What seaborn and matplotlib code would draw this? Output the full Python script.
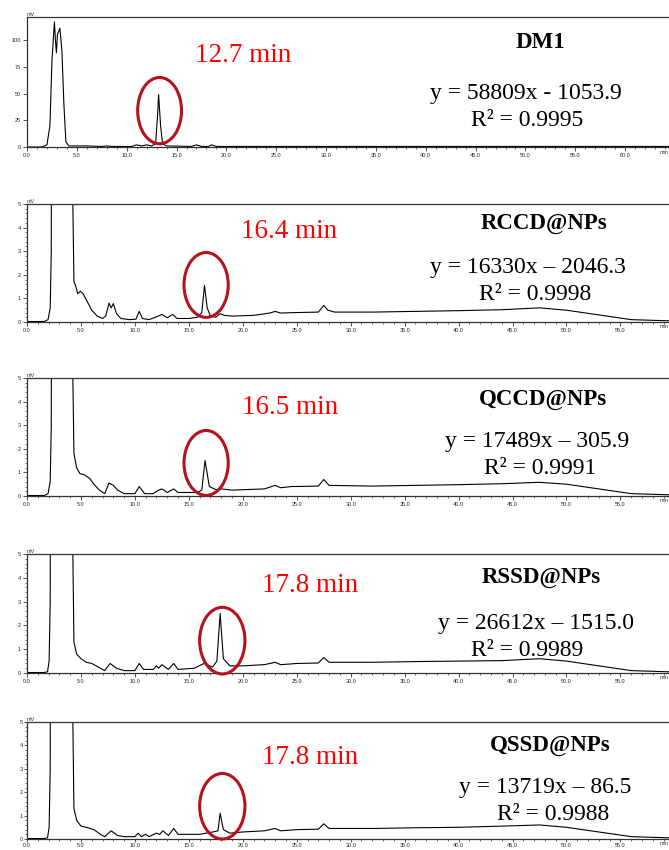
import pandas as pd
import seaborn as sns
import matplotlib.pyplot as plt
from matplotlib.patches import Ellipse
from matplotlib.ticker import MultipleLocator, FormatStrFormatter

# chromatogram traces (time in min, signal in mV)
dm1_t = [0, 1.5, 2.0, 2.3, 2.5, 2.75, 2.85, 2.95, 3.05, 3.3, 3.5, 3.7, 3.9, 4.2, 5.0, 6.0, 7.5, 8.0, 8.5,
         10.5, 11.0, 11.5, 12.0, 12.5, 12.9, 13.1, 13.2, 13.4, 13.6, 14.0, 16.5, 17.0, 17.5, 18.2,
         18.5, 19.0, 20.0, 64.4]
dm1_mv = [0, 0, 2, 20, 80, 117, 100, 88, 105, 111, 90, 40, 5, 1, 1, 1, 0.5, 1, 0.5,
          0.5, 2, 1, 2, 1, 3, 30, 49, 20, 3, 1, 0.5, 2, 0.5, 0.5,
          2, 0.5, 0.5, 0.5]

rccd_t = [0, 1.6, 1.95, 2.15, 2.25, 2.35, 4.15, 4.25, 4.35, 4.5, 4.7, 4.95, 5.2, 5.6, 6.0, 6.5, 7.0, 7.3,
          7.6, 7.8, 8.0, 8.3, 8.7, 9.5, 10.1, 10.4, 10.7, 11.3, 12.0, 12.5, 13.0, 13.5, 13.9, 15.0,
          15.8, 16.2, 16.45, 16.7, 17.0, 17.5, 17.9, 18.3, 19.0, 21.0, 22.5, 23.0, 23.5, 25.0, 27.0,
          27.5, 27.9, 28.5, 32.0, 36.0, 40.0, 44.0, 47.5, 50.0, 53.0, 56.0, 59.5]
rccd_mv = [0.02, 0.02, 0.1, 0.6, 3.0, 40, 40, 5.0, 1.7, 1.55, 1.2, 1.3, 1.2, 0.85, 0.5, 0.25, 0.15, 0.25,
           0.8, 0.6, 0.78, 0.35, 0.15, 0.1, 0.12, 0.45, 0.15, 0.1, 0.22, 0.32, 0.18, 0.32, 0.15, 0.15,
           0.2, 0.4, 1.55, 0.6, 0.25, 0.2, 0.35, 0.28, 0.25, 0.28, 0.38, 0.45, 0.38, 0.4, 0.42,
           0.7, 0.5, 0.42, 0.42, 0.45, 0.48, 0.52, 0.6, 0.5, 0.3, 0.1, 0.05]

qccd_t = [0, 1.6, 1.95, 2.15, 2.25, 2.35, 4.15, 4.25, 4.35, 4.6, 4.9, 5.3, 5.8, 6.2, 6.7, 7.2, 7.6, 8.0,
          8.4, 9.0, 10.0, 10.4, 10.9, 11.7, 12.2, 12.5, 13.0, 13.6, 14.0, 15.8, 16.2, 16.5, 16.9,
          17.6, 18.0, 19.0, 22.0, 23.0, 23.5, 24.5, 27.0, 27.5, 28.0, 32.0, 36.0, 40.0, 44.0, 47.5,
          50.0, 53.0, 56.0, 59.5]
qccd_mv = [0.02, 0.02, 0.1, 0.6, 3.0, 40, 40, 5.0, 1.8, 1.2, 0.95, 0.9, 0.75, 0.5, 0.25, 0.1, 0.55, 0.45,
           0.25, 0.1, 0.1, 0.4, 0.1, 0.1, 0.25, 0.3, 0.15, 0.3, 0.15, 0.15, 0.25, 1.5, 0.4,
           0.25, 0.3, 0.25, 0.3, 0.45, 0.35, 0.4, 0.42, 0.7, 0.45, 0.42, 0.45, 0.48, 0.52, 0.58,
           0.5, 0.3, 0.1, 0.05]

rssd_t = [0, 1.6, 1.9, 2.05, 2.15, 2.3, 4.15, 4.25, 4.35, 4.6, 5.0, 5.5, 6.0, 6.8, 7.2, 7.7, 8.3, 9.0,
          10.0, 10.4, 10.8, 11.7, 12.0, 12.2, 12.5, 13.1, 13.6, 14.0, 15.5, 16.4, 17.2, 17.6, 17.9,
          18.2, 18.8, 20.0, 22.0, 23.0, 23.5, 25.0, 27.0, 27.5, 28.0, 32.0, 36.0, 40.0, 44.0, 47.5,
          50.0, 53.0, 56.0, 59.5]
rssd_mv = [0.02, 0.02, 0.05, 0.5, 3.0, 40, 40, 5.0, 1.3, 0.8, 0.6, 0.45, 0.4, 0.2, 0.1, 0.4, 0.2, 0.1,
           0.1, 0.4, 0.15, 0.15, 0.3, 0.2, 0.35, 0.15, 0.4, 0.15, 0.2, 0.4, 0.25, 0.5, 2.5,
           0.6, 0.3, 0.3, 0.35, 0.45, 0.35, 0.4, 0.42, 0.65, 0.45, 0.45, 0.48, 0.5, 0.52, 0.6,
           0.5, 0.3, 0.1, 0.05]

qssd_t = [0, 1.6, 1.9, 2.05, 2.15, 2.3, 4.15, 4.25, 4.35, 4.6, 5.0, 5.5, 6.2, 6.8, 7.2, 7.8, 8.4, 9.0,
          10.0, 10.3, 10.6, 11.0, 11.3, 12.0, 12.3, 12.6, 13.1, 13.6, 14.0, 16.0, 17.2, 17.7, 17.9,
          18.2, 18.8, 20.0, 22.0, 23.0, 23.5, 25.0, 27.0, 27.5, 28.0, 32.0, 36.0, 40.0, 44.0, 47.5,
          50.0, 53.0, 56.0, 59.5]
qssd_mv = [0.02, 0.02, 0.05, 0.5, 3.0, 40, 40, 5.0, 1.3, 0.8, 0.55, 0.5, 0.4, 0.2, 0.1, 0.35, 0.15, 0.1,
           0.1, 0.25, 0.1, 0.2, 0.1, 0.25, 0.2, 0.35, 0.15, 0.45, 0.2, 0.2, 0.3, 0.35, 1.1,
           0.4, 0.25, 0.3, 0.35, 0.45, 0.35, 0.4, 0.42, 0.65, 0.45, 0.45, 0.48, 0.5, 0.55, 0.6,
           0.5, 0.3, 0.1, 0.05]

samples = ["DM1", "RCCD@NPs", "QCCD@NPs", "RSSD@NPs", "QSSD@NPs"]
ret_labels = ["12.7 min", "16.4 min", "16.5 min", "17.8 min", "17.8 min"]
eq_labels = ["y = 58809x - 1053.9", "y = 16330x \u2013 2046.3", "y = 17489x \u2013 305.9",
             "y = 26612x \u2013 1515.0", "y = 13719x \u2013 86.5"]
r2_labels = ["R\u00b2 = 0.9995", "R\u00b2 = 0.9998", "R\u00b2 = 0.9991", "R\u00b2 = 0.9989", "R\u00b2 = 0.9988"]

traces = [(dm1_t, dm1_mv), (rccd_t, rccd_mv), (qccd_t, qccd_mv), (rssd_t, rssd_mv), (qssd_t, qssd_mv)]

sns.set_theme(style="ticks")
plt.rcParams['font.family'] = ['Liberation Sans', 'DejaVu Sans']

W, H = 669, 850
fig = plt.figure(figsize=(W / 100, H / 100), dpi=100)

# axes frames in pixels: (top, bottom)
frames = [(17, 147), (204, 322), (378, 496), (554, 673), (722, 839)]
# layout of the annotations in pixels: red label, name, equation, r2
ret_pos = [(243, 55), (289, 232), (290, 408), (310, 585), (310, 758)]
name_pos = [(540, 42), (544, 223), (543, 400), (541, 578), (550, 746)]
eq_pos = [(526, 93), (528, 267), (537, 442), (536, 624), (545, 787)]
r2_pos = [(527, 120), (535, 294), (540, 469), (527, 650), (553, 815)]
# ellipse centre (min, mV), width (min), height (mV)
ellipses = [(13.3, 34, 4.4, 62), (16.6, 1.57, 4.1, 2.75), (16.6, 1.4, 4.1, 2.75),
            (18.1, 1.36, 4.2, 2.8), (18.1, 1.4, 4.2, 2.8)]

def fx(px):
    return px / W

def fy(py):
    return 1 - py / H

for i, (t, mv) in enumerate(traces):
    top, bot = frames[i]
    ax = fig.add_axes([fx(27), fy(bot), 1 - fx(27), (bot - top) / H])
    df = pd.DataFrame({"time": t, "mV": mv})
    sns.lineplot(data=df, x="time", y="mV", ax=ax, sort=False, estimator=None,
                 color="black", linewidth=0.8)
    if i == 0:
        ax.set_xlim(0, 64.4)
        ax.set_ylim(0, 121.5)
        ax.yaxis.set_major_locator(MultipleLocator(25))
    else:
        ax.set_xlim(0, 59.5)
        ax.set_ylim(0, 5)
        ax.yaxis.set_major_locator(MultipleLocator(1))
        ax.yaxis.set_minor_locator(MultipleLocator(0.2))
    ax.yaxis.set_major_formatter(FormatStrFormatter("%d"))
    ax.xaxis.set_major_locator(MultipleLocator(5))
    ax.xaxis.set_minor_locator(MultipleLocator(1))
    ax.xaxis.set_major_formatter(FormatStrFormatter("%.1f"))
    last = i == len(traces) - 1
    ax.tick_params(which="major", length=2.5 if last else 3, width=0.6, labelsize=4,
                   pad=0.6 if last else 1.5, color="#333333")
    ax.tick_params(which="minor", length=1.5, width=0.5, color="#333333")
    ax.set_xlabel("")
    ax.set_ylabel("")
    ax.set_facecolor("white")
    ax.spines["right"].set_visible(False)
    for s in ["left", "bottom", "top"]:
        ax.spines[s].set_linewidth(0.9)
        ax.spines[s].set_color("#333333")
    ax.text(0.0, 1.0, "mV", transform=ax.transAxes, fontsize=4, ha="left", va="bottom",
            color="#333333")
    ax.text(0.999, -0.02, "min", transform=ax.transAxes, fontsize=4, ha="right", va="top",
            color="#333333")

    ex, ey, ew, eh = ellipses[i]
    ax.add_patch(Ellipse((ex, ey), ew, eh, fill=False, edgecolor="#B5121B",
                         linewidth=2.2, clip_on=False, zorder=5))

    fig.text(fx(ret_pos[i][0]), fy(ret_pos[i][1]), ret_labels[i], color="#FF0000",
             fontsize=19.5, family="Liberation Serif", ha="center", va="center")
    fig.text(fx(name_pos[i][0]), fy(name_pos[i][1]), samples[i], color="black",
             fontsize=16.5, fontweight="bold", family="Liberation Serif", ha="center", va="center")
    fig.text(fx(eq_pos[i][0]), fy(eq_pos[i][1]), eq_labels[i], color="black",
             fontsize=17, family="Liberation Serif", ha="center", va="center")
    fig.text(fx(r2_pos[i][0]), fy(r2_pos[i][1]), r2_labels[i], color="black",
             fontsize=17, family="Liberation Serif", ha="center", va="center")

plt.savefig("out.png", dpi=100, facecolor="white")
